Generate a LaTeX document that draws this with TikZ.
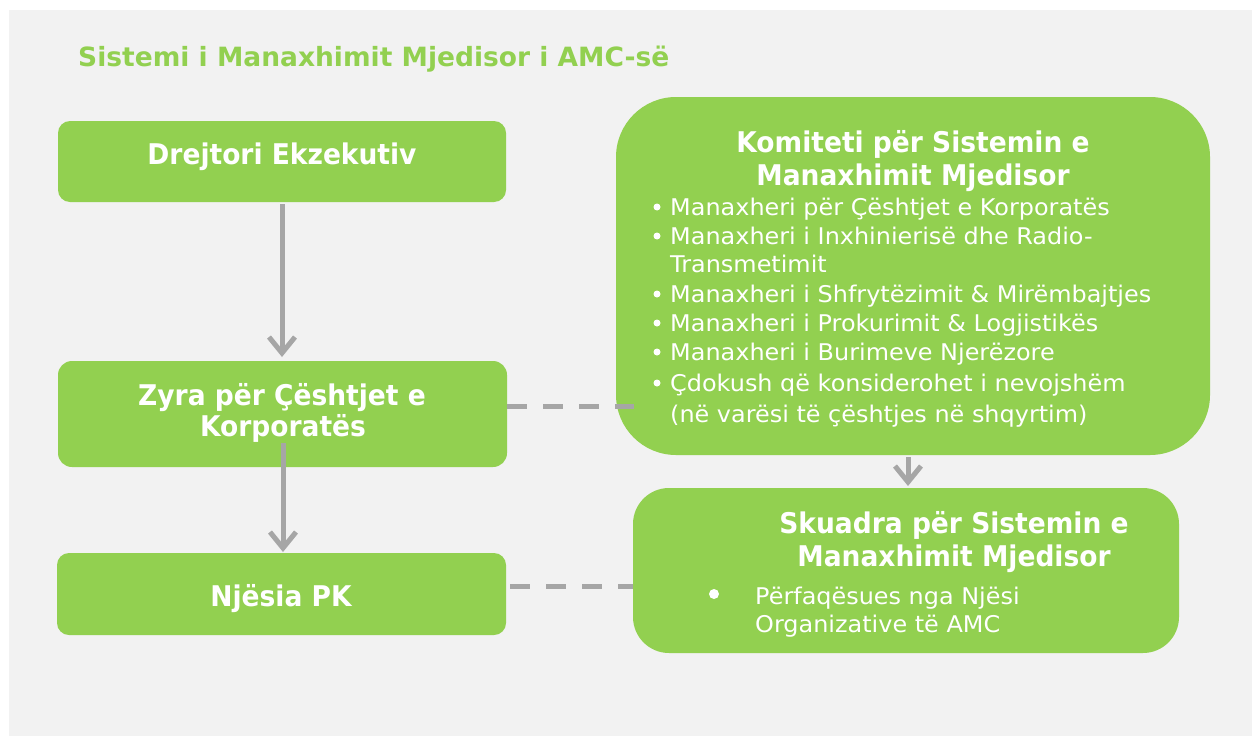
\documentclass[tikz,border=0pt]{standalone}
\usepackage{fontspec}
\setmainfont{DejaVu Sans}
\newfontfamily\bodyfont{DejaVu Sans}[FakeStretch=1.04]
\newfontfamily\headfont{DejaVu Sans}[FakeStretch=0.93]
\newfontfamily\titlefont{DejaVu Sans}[FakeStretch=1.0]
\usetikzlibrary{arrows.meta}
\definecolor{grn}{HTML}{92D050}
\definecolor{bg}{HTML}{F2F2F2}
\definecolor{arr}{HTML}{A6A6A6}
\tikzset{
  box/.style={fill=grn, draw=none, inner sep=0pt},
  head/.style={text=white, font=\headfont\bfseries\fontsize{28.5}{33}\selectfont, inner sep=0pt},
  body/.style={text=white, font=\bodyfont\fontsize{23}{29}\selectfont, inner sep=0pt, anchor=base west},
  flow/.style={draw=arr, line width=5pt, -{Straight Barb[length=16pt,width=26pt,line width=5pt]}},
  link/.style={draw=arr, line width=5pt, dash pattern=on 20pt off 16pt},
  dot/.style={circle, fill=white, inner sep=0pt, minimum size=7pt}
}
\begin{document}
\begin{tikzpicture}[x=1pt,y=-1pt]
\useasboundingbox (0,0) rectangle (1252,736);
\fill[white] (0,0) rectangle (1252,736);
\fill[bg] (9,10) rectangle (1252,736);
\node[anchor=base west, text=grn, font=\titlefont\bfseries\fontsize{26.5}{30}\selectfont, inner sep=0pt] (title) at (78,66) {Sistemi i Manaxhimit Mjedisor i AMC-së};
% left boxes
\path[box, rounded corners=12pt] (58,121) rectangle (506,202);
\node[minimum width=448pt, minimum height=81pt, inner sep=0pt] (dre) at (282,161.5) {};
\node[head, anchor=base] (dret) at (282,164) {Drejtori Ekzekutiv};
\path[box, rounded corners=14pt] (58,361) rectangle (507,467);
\node[minimum width=449pt, minimum height=106pt, inner sep=0pt] (zyr) at (282.5,414) {};
\node[head, anchor=base] (zyr1) at (282,405) {Zyra për Çështjet e};
\node[head, anchor=base] (zyr2) at (283,436) {Korporatës};
\path[box, rounded corners=12pt] (57,553) rectangle (506,635);
\node[minimum width=449pt, minimum height=82pt, inner sep=0pt] (nje) at (281.5,594) {};
\node[head, anchor=base] (njet) at (281,606) {Njësia PK};
% right boxes
\path[box, rounded corners=60pt] (616,97) rectangle (1210,455);
\node[minimum width=594pt, minimum height=358pt, inner sep=0pt] (kom) at (913,276) {};
\node[head, anchor=base] (kom1) at (913,152) {Komiteti për Sistemin e};
\node[head, anchor=base] (kom2) at (913,185) {Manaxhimit Mjedisor};
\foreach \y/\t [count=\i] in {215/Manaxheri për Çështjet e Korporatës,244/Manaxheri i Inxhinierisë dhe Radio-,272/Transmetimit,302/Manaxheri i Shfrytëzimit \& Mirëmbajtjes,331/Manaxheri i Prokurimit \& Logjistikës,360/Manaxheri i Burimeve Njerëzore,391/Çdokush që konsiderohet i nevojshëm,422/(në varësi të çështjes në shqyrtim)}
  \node[body] (kb\i) at (670,\y) {\t};
\foreach \y [count=\i] in {207,236,294,323,352,383}
  \node[dot] (kd\i) at (657,\y) {};
\path[box, rounded corners=36pt] (633,488) rectangle (1179,653);
\node[minimum width=546pt, minimum height=165pt, inner sep=0pt] (sku) at (906,570.5) {};
\node[head, anchor=base] (sku1) at (954,533) {Skuadra për Sistemin e};
\node[head, anchor=base] (sku2) at (954,566) {Manaxhimit Mjedisor};
\node[dot, minimum size=10pt] (sd) at (714,594) {};
\begin{scope}
\clip (700,560) rectangle (1179,637);
\node[body] (sb1) at (755,604) {Përfaqësues nga Njësi};
\node[body] (sb2) at (755,632) {Organizative të AMC};
\end{scope}
% connectors
\draw[flow] (dre.south) ++(0,2) coordinate (a1) -- (a1 |- 0,357);
\draw[flow] (283,443) coordinate (a2) -- (283,552);
\draw[flow] (kom.south -| 908,0) ++(0,2) coordinate (a3) -- (908,486);
\draw[link] (zyr.east |- 0,406) -- ([xshift=18pt]kom.west |- 0,406);
\draw[link] (nje.east |- 0,586) ++(4,0) -- (sku.west |- 0,586);
\end{tikzpicture}
\end{document}
